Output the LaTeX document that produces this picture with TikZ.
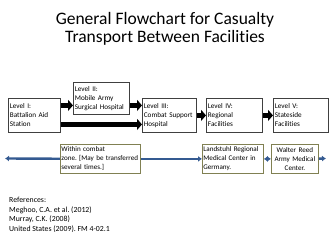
\documentclass[tikz,border=0pt]{standalone}
\usepackage{fontspec}
\setmainfont{Carlito}[Ligatures=NoCommon]
\usepackage{xcolor}
\usetikzlibrary{arrows.meta,positioning}

\definecolor{boxgray}{RGB}{64,64,64}
\definecolor{boxolive}{RGB}{128,128,82}
\definecolor{linkblue}{RGB}{52,90,145}
\frenchspacing
\hyphenpenalty=10000

\begin{document}
\begin{tikzpicture}[
    x=1pt, y=-1pt,
    level/.style={
        draw=boxgray,
        align=left,
        inner xsep=1.5pt,
        inner ysep=2pt,
        font=\fontsize{7.2}{9}\selectfont,
        line width=0.8pt,
        anchor=north west
    },
    note/.style={
        draw=boxolive,
        align=left,
        inner xsep=1pt,
        inner ysep=1.5pt,
        minimum height=29pt,
        font=\fontsize{7.1}{9}\selectfont,
        line width=0.8pt,
        fill=white,
        anchor=north west
    },
    blockarrow/.style={-{Triangle[length=5pt,width=11pt]}, line width=5pt},
    bluelink/.style={-{Latex[length=4pt,width=6pt]}, line width=2.4pt, draw=linkblue}
]
\useasboundingbox (0,0) rectangle (330,247);

\node[font=\fontsize{17.5}{18.5}\selectfont, align=center] (title) at (165,29)
    {General Flowchart for Casualty\\Transport Between Facilities};

% top row
\node[level, text width=49pt, minimum height=34pt] (lvlone) at (8,98)
    {Level I:\\Battalion Aid\\Station};
\node[level, text width=53pt, minimum height=32pt] (lvltwo) at (73,82)
    {Level II:\\Mobile Army\\Surgical Hospital};
\node[level, text width=51pt, minimum height=34pt] (lvlthree) at (142,98)
    {Level III:\\Combat Support\\Hospital};
\node[level, text width=53pt, minimum height=34pt] (lvlfour) at (206,98)
    {Level IV:\\Regional\\Facilities};
\node[level, text width=52pt, minimum height=34pt] (lvlfive) at (273,98)
    {Level V:\\Stateside\\Facilities};

\draw[blockarrow] ([yshift=10pt]lvlone.east) -- ([yshift=10pt]lvlone.east -| lvltwo.west);
\draw[blockarrow] ([yshift=-9pt]lvlone.east) -- ([yshift=-9pt]lvlone.east -| lvlthree.west);
\draw[blockarrow] ([yshift=-7pt]lvltwo.east) -- ([yshift=-7pt]lvltwo.east -| lvlthree.west);
\draw[blockarrow] (lvlthree) -- (lvlfour);
\draw[blockarrow] (lvlfour) -- (lvlfive);

% bottom row
\node[note, text width=78pt] (combat) at (60,144)
    {Within combat\\zone. [May be transferred\\several times.]};
\node[note, text width=59pt] (landstuhl) at (202,144)
    {Landstuhl Regional\\Medical Center in\\Germany.};
\node[note, text width=45pt, align=center] (walter) at (271,144)
    {Walter Reed\\Army Medical\\Center.};
\coordinate (leftend) at (5,158.5);
\coordinate (rightend) at (326,158.5);

\draw[bluelink] (combat) -- (leftend);
\draw[bluelink] (combat) -- (landstuhl);
\draw[bluelink, {Latex[length=4pt,width=6pt]}-{Latex[length=4pt,width=6pt]}] (landstuhl) -- (walter);
\draw[bluelink] (walter) -- (rightend);

\node[align=left, anchor=north west, inner sep=0pt, font=\fontsize{7.8}{9.7}\selectfont] (refs) at (9,197)
    {References:\\Meghoo, C.A. et al. (2012)\\Murray, C.K. (2008)\\United States (2009). FM 4-02.1};
\end{tikzpicture}
\end{document}
